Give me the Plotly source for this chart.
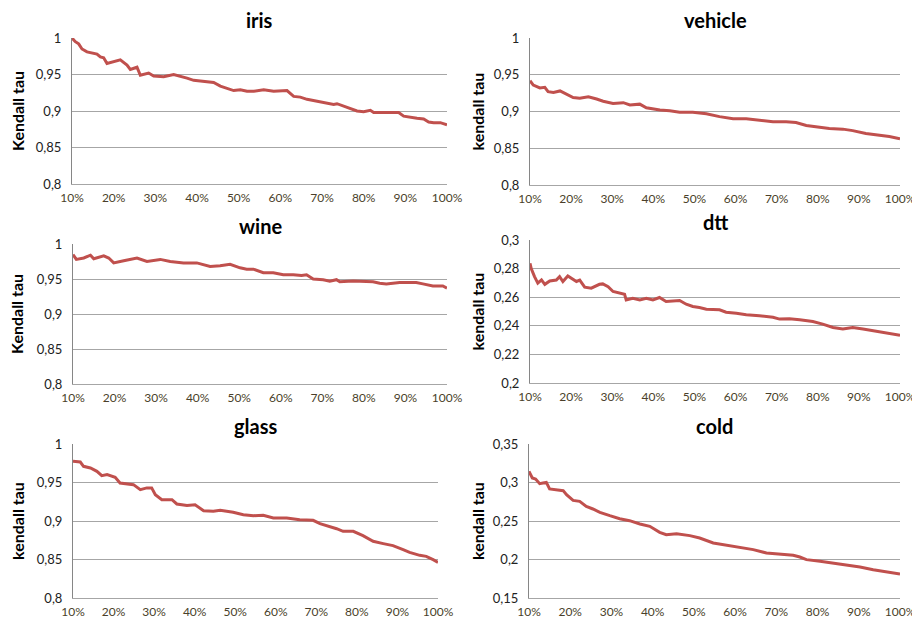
import plotly.graph_objects as go

# ---------------- data (x in %, y = Kendall tau) ----------------
iris_x = [10, 10.8, 11.6, 12.4, 13.6, 14.8, 16, 16.8, 17.6, 18.4, 20, 21.6, 23.2, 24, 25.6, 26.4, 28.4, 29.6,
          32, 34.4, 37.6, 39.2, 40.8, 42.4, 44, 45.6, 47.2, 48.8, 50.4, 52, 53.6, 56, 58.4, 60.8, 61.6, 63.2,
          64.8, 66.4, 68, 69.6, 71.2, 72.8, 73.6, 75.2, 76.8, 78.4, 80, 81.6, 82.4, 84, 85.6, 87.2, 88.4,
          89.6, 91.2, 92.8, 94.4, 95.6, 96.8, 98.4, 100]
iris_y = [1.0, 0.995, 0.992, 0.985, 0.981, 0.979, 0.978, 0.974, 0.973, 0.965, 0.967, 0.970, 0.963, 0.957,
          0.960, 0.949, 0.952, 0.948, 0.947, 0.950, 0.945, 0.942, 0.941, 0.940, 0.939, 0.934, 0.931, 0.928,
          0.929, 0.927, 0.927, 0.929, 0.927, 0.927, 0.928, 0.920, 0.919, 0.916, 0.914, 0.913, 0.910, 0.909,
          0.910, 0.907, 0.904, 0.900, 0.899, 0.901, 0.898, 0.898, 0.897, 0.898, 0.898, 0.893, 0.891, 0.890,
          0.889, 0.885, 0.884, 0.884, 0.881]

vehicle_x = [10, 10.8, 12.4, 13.6, 14.4, 15.7, 17.3, 18.9, 20.5, 22.1, 24.2, 26.2, 27.8, 30.2, 32.7, 34.3,
             36.7, 38.3, 41.6, 44, 46.4, 49.6, 52.9, 56.1, 59.4, 62.6, 65.8, 69.1, 72.3, 74.7, 77.2, 80.4,
             82.8, 86.1, 88.5, 91.7, 95, 97.4, 100]
vehicle_y = [0.942, 0.936, 0.932, 0.933, 0.927, 0.926, 0.928, 0.924, 0.919, 0.918, 0.920, 0.917, 0.914,
             0.911, 0.912, 0.909, 0.910, 0.905, 0.902, 0.901, 0.899, 0.899, 0.897, 0.893, 0.890, 0.890,
             0.888, 0.886, 0.886, 0.885, 0.881, 0.879, 0.877, 0.876, 0.874, 0.870, 0.868, 0.866, 0.863]

wine_x = [10, 10.8, 12.6, 14.2, 15, 17.4, 18.6, 19.8, 22.2, 25.4, 27.8, 31, 33.4, 36.6, 39.8, 41.4, 43,
          45.4, 47.8, 50.2, 51.8, 53.4, 55.8, 58.2, 60.6, 63, 65, 66.2, 67.8, 70.2, 71.8, 73.4, 74.2, 77.4,
          80.6, 82.2, 83.8, 85.4, 88.6, 92.6, 94.2, 96.6, 99, 100]
wine_y = [0.985, 0.978, 0.980, 0.984, 0.979, 0.983, 0.980, 0.973, 0.976, 0.980, 0.975, 0.978, 0.975, 0.973,
          0.973, 0.971, 0.968, 0.969, 0.971, 0.966, 0.964, 0.964, 0.959, 0.959, 0.956, 0.956, 0.955, 0.956,
          0.950, 0.949, 0.947, 0.949, 0.946, 0.947, 0.946, 0.946, 0.944, 0.943, 0.945, 0.945, 0.943, 0.940,
          0.940, 0.937]

dtt_x = [10, 10.3, 11.1, 11.9, 12.8, 13.6, 14.8, 16.4, 17.2, 18, 19.2, 20.5, 21.3, 22.1, 23.3, 24.9, 26.9,
         27.7, 29, 30.2, 31.8, 33, 33.4, 35, 36.7, 38.3, 39.9, 41.5, 43.1, 45.6, 46.4, 48, 49.6, 51.2, 52.9,
         56.1, 57.7, 60.2, 62.6, 65.8, 69.1, 70.7, 73.1, 75.6, 78.8, 81.2, 83.7, 86.1, 88.5, 91, 93.4, 95.8,
         98.2, 100]
dtt_y = [0.2837, 0.2800, 0.2744, 0.2698, 0.2721, 0.2690, 0.2714, 0.2720, 0.2744, 0.2710, 0.2749, 0.2728,
         0.2710, 0.2720, 0.2670, 0.2663, 0.2690, 0.2693, 0.2674, 0.2640, 0.2628, 0.2620, 0.2581, 0.2593,
         0.2581, 0.2593, 0.2581, 0.2598, 0.2570, 0.2577, 0.2577, 0.2551, 0.2535, 0.2528, 0.2516, 0.2512,
         0.2495, 0.2488, 0.2477, 0.2470, 0.2460, 0.2447, 0.2449, 0.2442, 0.2430, 0.2412, 0.2388, 0.2377,
         0.2388, 0.2377, 0.2365, 0.2353, 0.2344, 0.2333]

glass_x = [10, 11.8, 12.6, 14.3, 15.9, 17.1, 18.4, 20.4, 21.6, 23.3, 24.9, 26.6, 28.2, 29.4, 30.3, 31.9,
           34.4, 35.6, 38.1, 40.1, 42.2, 44.6, 46.3, 49.5, 52, 54.5, 56.9, 59.4, 62.7, 65.9, 69.2, 70.9,
           73.3, 75, 76.6, 79.1, 81.5, 84, 86.5, 88.9, 91.4, 93, 95.5, 97.1, 98.8, 100]
glass_y = [0.9775, 0.9766, 0.9710, 0.9688, 0.9645, 0.9589, 0.9602, 0.9567, 0.9494, 0.9485, 0.9472, 0.9407,
           0.9430, 0.9430, 0.9342, 0.9277, 0.9277, 0.9221, 0.9200, 0.9212, 0.9134, 0.9126, 0.9139, 0.9113,
           0.9082, 0.9069, 0.9074, 0.9039, 0.9039, 0.9017, 0.9009, 0.8965, 0.8931, 0.8900, 0.8866, 0.8866,
           0.8810, 0.8736, 0.8706, 0.8680, 0.8628, 0.8593, 0.8554, 0.8541, 0.8498, 0.8463]

cold_x = [10, 10.8, 11.6, 12.6, 13.4, 14.2, 15, 16.6, 18.3, 19.1, 20.7, 22.3, 23.9, 25.5, 27.2, 29.6, 32,
          34.4, 36.9, 39.3, 41.7, 43.3, 45.8, 49, 51.4, 54.7, 57.9, 61.1, 64.4, 67.6, 70.8, 74.1, 75.7, 77.3,
          80.6, 83.8, 87, 90.3, 93.5, 96.7, 100]
cold_y = [0.3145, 0.3058, 0.3045, 0.2985, 0.2994, 0.3002, 0.2916, 0.2907, 0.2894, 0.2842, 0.2768, 0.2755,
          0.2690, 0.2656, 0.2613, 0.2569, 0.2530, 0.2504, 0.2461, 0.2431, 0.2353, 0.2322, 0.2335, 0.2310,
          0.2279, 0.2214, 0.2184, 0.2158, 0.2128, 0.2084, 0.2071, 0.2054, 0.2032, 0.1998, 0.1976, 0.1955,
          0.1933, 0.1903, 0.1868, 0.1838, 0.1812]

x_ticks = [10, 20, 30, 40, 50, 60, 70, 80, 90, 100]
x_labels = ["10%", "20%", "30%", "40%", "50%", "60%", "70%", "80%", "90%", "100%"]

y_ticks_hi = [0.8, 0.85, 0.9, 0.95, 1.0]
y_labels_hi = ["0,8", "0,85", "0,9", "0,95", "1"]
y_ticks_dtt = [0.2, 0.22, 0.24, 0.26, 0.28, 0.3]
y_labels_dtt = ["0,2", "0,22", "0,24", "0,26", "0,28", "0,3"]
y_ticks_cold = [0.15, 0.2, 0.25, 0.3, 0.35]
y_labels_cold = ["0,15", "0,2", "0,25", "0,3", "0,35"]

# ---------------- layout ----------------
# page body has an 8px margin: figure is drawn 8px in from the window corner
OFF = 8
W, H = 920 - OFF, 621 - OFF
LINE = "#C0504D"
FONT = "Lato"

panels = [
    # name, ylabel, x, y, yticks, ylabels, (left, right, top, bottom) in window px
    ("iris", "Kendall tau", iris_x, iris_y, y_ticks_hi, y_labels_hi, (72, 447, 38, 184)),
    ("vehicle", "kendall tau", vehicle_x, vehicle_y, y_ticks_hi, y_labels_hi, (530, 900, 38, 185)),
    ("wine", "Kendall tau", wine_x, wine_y, y_ticks_hi, y_labels_hi, (73, 447, 244, 384)),
    ("dtt", "kendall tau", dtt_x, dtt_y, y_ticks_dtt, y_labels_dtt, (530, 900, 240, 383)),
    ("glass", "kendall tau", glass_x, glass_y, y_ticks_hi, y_labels_hi, (73, 438, 444, 598)),
    ("cold", "kendall tau", cold_x, cold_y, y_ticks_cold, y_labels_cold, (529, 900, 444, 598)),
]


def fx(px):
    return (px - OFF) / W


def fy(py):
    return 1 - (py - OFF) / H


fig = go.Figure()
annotations = []
for i, (name, ylab, xs, ys, yt, yl, (l, r, t, b)) in enumerate(panels):
    n = "" if i == 0 else str(i + 1)
    fig.add_trace(go.Scatter(x=xs, y=ys, mode="lines", line=dict(color=LINE, width=3),
                             xaxis="x" + n, yaxis="y" + n, showlegend=False, cliponaxis=False))
    fig.layout["xaxis" + n] = dict(
        domain=[fx(l), fx(r)], anchor="y" + n, range=[10, 100], tickvals=x_ticks, ticktext=x_labels,
        showgrid=False, zeroline=False, showline=True, linecolor="#A6A6A6", linewidth=1,
        ticks="", tickfont=dict(family=FONT, size=12, color="#4a3f2a"), ticklabelstandoff=3,
        ticklabeloverflow="allow", automargin=False, fixedrange=True)
    fig.layout["yaxis" + n] = dict(
        domain=[fy(b), fy(t)], anchor="x" + n, range=[yt[0], yt[-1]], tickvals=yt, ticktext=yl,
        showgrid=True, gridcolor="#A6A6A6", gridwidth=1, zeroline=False,
        showline=True, linecolor="#868686", linewidth=1, ticks="",
        tickfont=dict(family=FONT, size=13, color="#222222"), ticklabelstandoff=7,
        ticklabeloverflow="allow", automargin=False, fixedrange=True)
    annotations.append(dict(text="<b>%s</b>" % name, x=fx((l + r) / 2), y=fy(t - 18),
                            xref="paper", yref="paper", showarrow=False, xanchor="center",
                            yanchor="middle", font=dict(family=FONT, size=20, color="#000000")))
    left_label_x = 17 if l < 300 else 477
    annotations.append(dict(text="<b>%s</b>" % ylab, x=fx(left_label_x), y=fy((t + b) / 2),
                            xref="paper", yref="paper", showarrow=False, xanchor="center",
                            yanchor="middle", textangle=-90,
                            font=dict(family=FONT, size=16, color="#000000")))

fig.update_layout(width=W, height=H, margin=dict(l=0, r=0, t=0, b=0, autoexpand=False),
                  paper_bgcolor="white", plot_bgcolor="white", annotations=annotations)

fig.write_html("out.html")
